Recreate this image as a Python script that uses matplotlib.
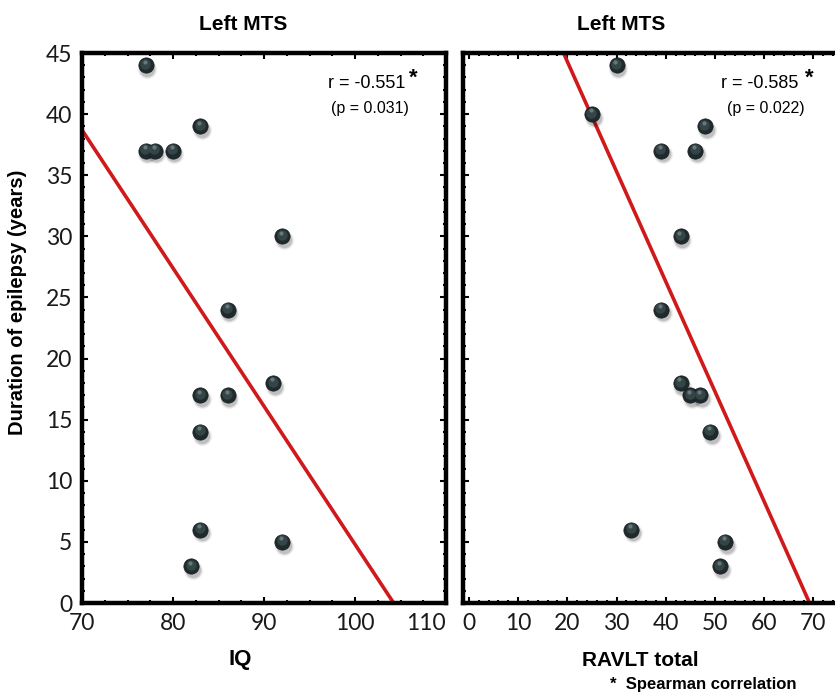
import matplotlib.pyplot as plt
import numpy as np
from matplotlib.ticker import MultipleLocator

# Left MTS group: IQ vs duration of epilepsy
iq = [77, 77, 78, 80, 83, 92, 86, 91, 83, 86, 83, 83, 92, 82]
dur_iq = [44, 37, 37, 37, 39, 30, 24, 18, 17, 17, 14, 6, 5, 3]

# Left MTS group: RAVLT total vs duration of epilepsy
ravlt = [30, 25, 48, 39, 46, 43, 39, 43, 45, 47, 49, 33, 52, 51]
dur_ravlt = [44, 40, 39, 37, 37, 30, 24, 18, 17, 17, 14, 6, 5, 3]

# fitted regression lines (slope, intercept)
fit_iq = (-1.13, 117.8)
fit_ravlt = (-0.90, 62.3)

stats_iq = ("r = -0.551", "(p = 0.031)")
stats_ravlt = ("r = -0.585", "(p = 0.022)")

W, H = 835, 695
fig = plt.figure(figsize=(W / 100, H / 100), dpi=100)
fig.patch.set_facecolor("white")

tick_font = "Lato"
bold_font = ["Liberation Sans Narrow", "Liberation Sans", "DejaVu Sans"]


def px_box(x0, y0, x1, y1):
    return [x0 / W, 1 - y1 / H, (x1 - x0) / W, (y1 - y0) / H]


def balls(ax, x, y):
    x = np.asarray(x, float)
    y = np.asarray(y, float)
    span = ax.get_xlim()[1] - ax.get_xlim()[0]
    # soft drop shadow
    for s, a in [(14, 0.05), (12.5, 0.08), (11, 0.14)]:
        ax.plot(x + span * 0.004, y - 0.3, "o", ms=s, color="black", alpha=a,
                mec="none", zorder=3)
    ax.plot(x, y, "o", ms=11, color="#1f2a2c", mec="#161d1f", mew=0.5, zorder=4)
    ax.plot(x - span * 0.0015, y + 0.12, "o", ms=7.5, color="#3b4b4e",
            mec="none", alpha=0.8, zorder=5)
    ax.plot(x - span * 0.003, y + 0.3, "o", ms=3, color="#8a9c9f", mec="none",
            alpha=0.6, zorder=6)


def style(ax, xmin):
    for sp in ax.spines.values():
        sp.set_linewidth(3.2)
        sp.set_color("black")
    ax.yaxis.set_minor_locator(MultipleLocator(1))
    ax.xaxis.set_minor_locator(MultipleLocator(xmin))
    ax.tick_params(which="both", direction="in", top=True, right=True,
                   width=1.5, labelsize=16.5, pad=7, labelcolor="#1a1a1a")
    ax.tick_params(which="major", length=4)
    ax.tick_params(which="minor", length=2)


def tick_fonts(labels):
    for lab in labels:
        lab.set_fontfamily(tick_font)


# left panel
ax1 = fig.add_axes(px_box(82, 53, 446, 603))
ax1.set_xlim(70, 110)
ax1.set_ylim(0, 45)
style(ax1, 2.5)
xs = np.linspace(70, 110, 50)
ax1.plot(xs, fit_iq[0] * xs + fit_iq[1], color="#d0191a", lw=2.6, zorder=2)
balls(ax1, iq, dur_iq)
ax1.set_yticks(range(0, 46, 5))
ax1.set_xticks(range(70, 111, 10))
tick_fonts(ax1.get_xticklabels() + ax1.get_yticklabels())
# last IQ label is pulled left so it clears the second panel
ax1.get_xticklabels()[-1].set_horizontalalignment("right")
ax1.get_xticklabels()[-1].set_x(110.3)
ax1.text(367 / W, 1 - 88 / H, stats_iq[0], transform=fig.transFigure,
         ha="center", fontsize=13, family="Liberation Sans")
ax1.text(409 / W, 1 - 84 / H, "*", transform=fig.transFigure, ha="left",
         fontsize=16, fontweight="bold", family="Liberation Sans")
ax1.text(370 / W, 1 - 113 / H, stats_iq[1], transform=fig.transFigure,
         ha="center", fontsize=11.5, family="Liberation Sans")

# right panel, runs past the right edge of the figure
ax2 = fig.add_axes(px_box(463, 53, 902, 603))
ax2.set_xlim(-1.2, 88)
ax2.set_ylim(0, 45)
style(ax2, 2)
ax2.tick_params(axis="y", labelleft=False)
xs = np.linspace(0, 80, 50)
ax2.plot(xs, fit_ravlt[0] * xs + fit_ravlt[1], color="#d0191a", lw=2.6, zorder=2)
balls(ax2, ravlt, dur_ravlt)
ax2.set_yticks(range(0, 46, 5))
ax2.set_xticks(range(0, 71, 10))
tick_fonts(ax2.get_xticklabels())
fig.text(760 / W, 1 - 88 / H, stats_ravlt[0], ha="center", fontsize=13,
         family="Liberation Sans")
fig.text(805 / W, 1 - 84 / H, "*", ha="left", fontsize=16, fontweight="bold",
         family="Liberation Sans")
fig.text(766 / W, 1 - 113 / H, stats_ravlt[1], ha="center", fontsize=11.5,
         family="Liberation Sans")

# titles and axis labels
fig.text(243 / W, 1 - 25 / H, "Left MTS", ha="center", va="center",
         fontsize=15, fontweight="bold", family=bold_font)
fig.text(621 / W, 1 - 25 / H, "Left MTS", ha="center", va="center",
         fontsize=15, fontweight="bold", family=bold_font)
fig.text(18 / W, 1 - 302 / H, "Duration of epilepsy (years)", rotation=90,
         ha="center", va="center", fontsize=14.5, fontweight="bold",
         family=bold_font)
fig.text(240 / W, 1 - 660 / H, "IQ", ha="center", va="center",
         fontsize=16, fontweight="bold", family="Liberation Sans")
fig.text(640 / W, 1 - 660 / H, "RAVLT total", ha="center", va="center",
         fontsize=15, fontweight="bold", family="Liberation Sans")
fig.text(703 / W, 1 - 685 / H, "*  Spearman correlation", ha="center",
         va="center", fontsize=12, fontweight="bold", family="Liberation Sans")

fig.savefig("out.png", dpi=100)
